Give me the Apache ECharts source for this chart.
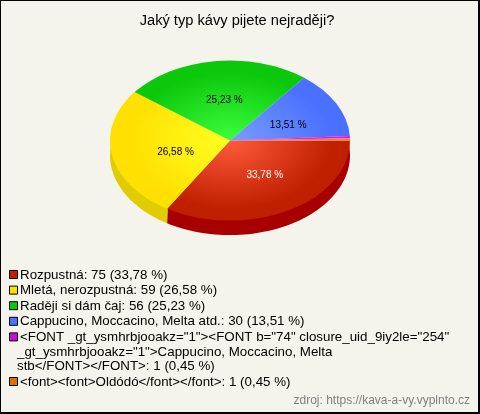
<!DOCTYPE html>
<html><head><meta charset="utf-8">
<style>html,body{margin:0;padding:0;background:#f4f4ec}#c{width:480px;height:414px}</style>
<script src="https://cdn.jsdelivr.net/npm/echarts@6/dist/echarts.min.js"></script>
</head><body><div id="c"></div>
<script>
const titleText = 'Jaký typ kávy pijete nejraději?';
const sourceText = 'zdroj: https://kava-a-vy.vyplnto.cz';
const categories = [
  'Rozpustná',
  'Mletá, nerozpustná',
  'Raději si dám čaj',
  'Cappucino, Moccacino, Melta atd.',
  '<FONT _gt_ysmhrbjooakz="1"><FONT b="74" closure_uid_9iy2le="254"\n_gt_ysmhrbjooakz="1">Cappucino, Moccacino, Melta\nstb</FONT></FONT>',
  '<font><font>Oldódó</font></font>'
];
const values = [75, 59, 56, 30, 1, 1];
const legendColors = ['#c42000', '#ffe000', '#0cc80c', '#4a70ff', '#c810d0', '#e07000'];
const edgeColors = ['#c02000', '#ffe000', '#0cc80c', '#4a70ff', '#f010f0', '#f08030'];
const centerColors = ['#ff5a3c', '#ffff22', '#3cff3c', '#7a9cff', '#ff20ff', '#f08030'];
const sideColors = ['#a80000', '#e0cc00', '#0a9a0a', '#3050c0', '#900090', '#b05000'];
const labelColors = ['#ffffff', '#000000', '#000000', '#000000', '#000000', '#000000'];

const total = values.reduce((a, b) => a + b, 0);
const pct = v => (v / total * 100).toFixed(2).replace('.', ',') + ' %';
const starts = [];
values.reduce((acc, v, i) => { starts[i] = acc; return acc + v; }, 0);
const ang = v => v / total * Math.PI * 2;

const cx = 230, cy = 140.6, rx = 120, ry = 80, depth = 14.5;
const FONT = '"Liberation Sans", Arial, sans-serif';

function sideItem(params, api) {
  const i = params.dataIndex;
  const a0 = ang(starts[i]), a1 = Math.min(ang(starts[i] + values[i]), Math.PI);
  if (a0 >= Math.PI) return null;
  const top = [], bot = [];
  const n = 60;
  for (let k = 0; k <= n; k++) {
    const a = a0 + (a1 - a0) * k / n;
    bot.push([cx + rx * Math.cos(a), cy + depth + ry * Math.sin(a)]);
    top.unshift([cx + (rx - 1) * Math.cos(a), cy + (ry - 1) * Math.sin(a)]);
  }
  return { type: 'polygon', shape: { points: bot.concat(top) }, style: { fill: sideColors[i] } };
}

function topItem(params, api) {
  const i = params.dataIndex;
  return {
    type: 'group', x: cx, y: cy, scaleY: ry / rx,
    children: [{
      type: 'sector',
      shape: { cx: 0, cy: 0, r: rx, r0: 0, startAngle: ang(starts[i]), endAngle: ang(starts[i] + values[i]), clockwise: true },
      style: { fill: new echarts.graphic.RadialGradient(0, 0, rx, [
        { offset: 0, color: centerColors[i] }, { offset: 0.85, color: edgeColors[i] }, { offset: 1, color: edgeColors[i] }
      ], true) }
    }]
  };
}

function labelItem(params, api) {
  const i = params.dataIndex;
  if (values[i] / total < 0.02) return null;
  const a = ang(starts[i] + values[i] / 2);
  const nudge = [[5.5, 0], [4.5, 5], [2, 0], [5, 4]][i];
  return {
    type: 'text',
    x: cx + rx * 0.5 * Math.cos(a) + nudge[0],
    y: cy + ry * 0.5 * Math.sin(a) + nudge[1] - 0.6,
    style: { text: pct(values[i]), fill: labelColors[i], font: '10px ' + FONT, align: 'center', verticalAlign: 'middle' }
  };
}

const legendGraphics = [];
let ly = 275;
categories.forEach((name, i) => {
  const lines = name.split('\n');
  legendGraphics.push({ type: 'rect', x: 9.5, y: ly - 4.5, shape: { width: 8, height: 8 },
    style: { fill: legendColors[i], stroke: '#000', lineWidth: 1 } });
  lines.forEach((t, k) => {
    const txt = k === lines.length - 1 ? t + ': ' + values[i] + ' (' + pct(values[i]) + ')' : t;
    legendGraphics.push({ type: 'text', x: k === 0 ? 20 : 17, y: ly + k * 14.5,
      style: { text: txt, fill: '#000', font: '13.33px ' + FONT, verticalAlign: 'middle' } });
  });
  ly += (lines.length - 1) * 14.5 + 15.6;
});

const chart = echarts.init(document.getElementById('c'), null, { renderer: 'canvas' });
chart.setOption({
  animation: false,
  backgroundColor: '#000',
  title: { text: titleText, left: 232, textAlign: 'center', top: 8, textStyle: { fontFamily: FONT, fontSize: 14.67, fontWeight: 'normal', color: '#000' } },
  tooltip: { show: false },
  graphic: [
    { type: 'rect', z: -1, shape: { x: 1, y: 1, width: 477, height: 411 }, style: { fill: '#f4f4ec' } },
    { type: 'text', right: 10, top: 395, style: { text: sourceText, fill: '#808080', font: '12px ' + FONT } },
    ...legendGraphics
  ],
  series: [
    { type: 'custom', coordinateSystem: 'none', silent: true, data: values, renderItem: sideItem, z: 1 },
    { type: 'custom', coordinateSystem: 'none', silent: true, data: values, renderItem: topItem, z: 2 },
    { type: 'custom', coordinateSystem: 'none', silent: true, data: values, renderItem: labelItem, z: 3 }
  ]
});
</script></body></html>
